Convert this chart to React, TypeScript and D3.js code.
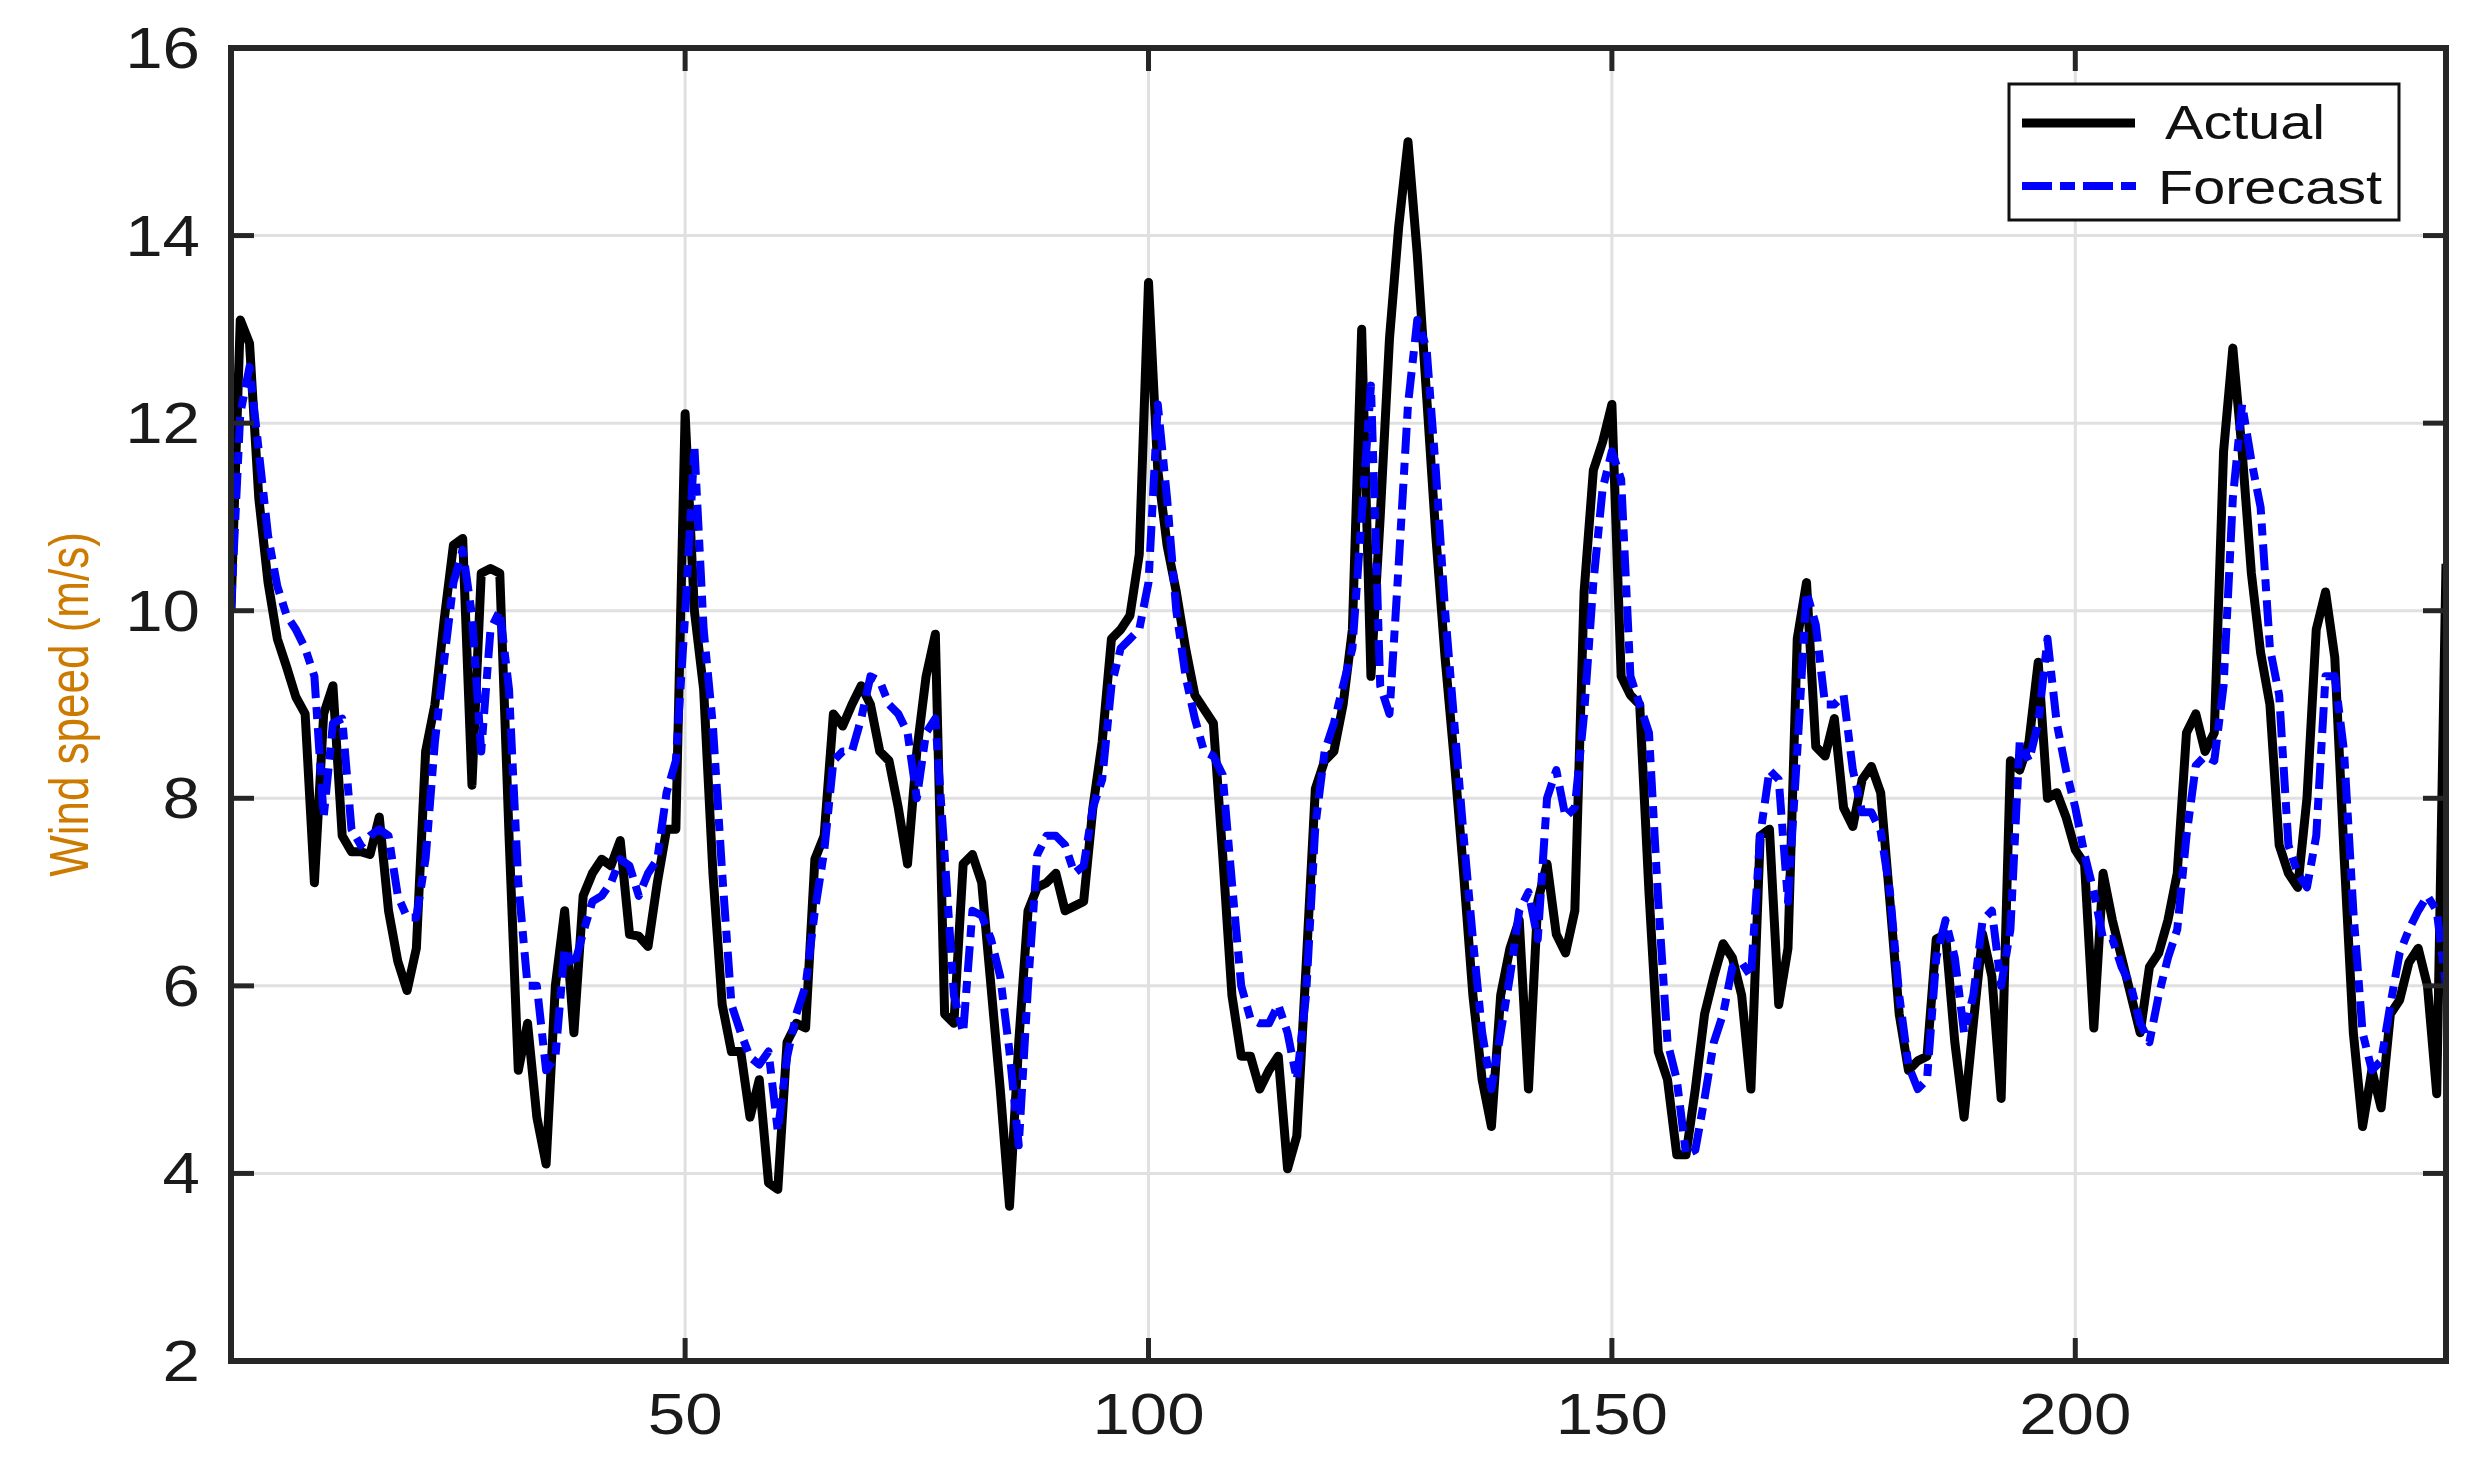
import React from "react";
import * as d3 from "d3";

const actual: number[] = [
  10.0, 13.1, 12.85, 11.2, 10.3, 9.7, 9.4, 9.08, 8.9, 7.1,
  8.9, 9.2, 7.6, 7.43, 7.43, 7.4, 7.8, 6.8, 6.26, 5.95,
  6.4, 8.5, 9.0, 9.9, 10.7, 10.77, 8.14, 10.4, 10.45, 10.4,
  7.6, 5.1, 5.6, 4.6, 4.1, 6.0, 6.8, 5.5, 6.96, 7.2,
  7.35, 7.28, 7.55, 6.55, 6.53, 6.42, 7.1, 7.67, 7.67, 12.1,
  10.0, 9.16, 7.2, 5.8, 5.3, 5.3, 4.6, 5.0, 3.9, 3.83,
  5.4, 5.6, 5.55, 7.35, 7.6, 8.9, 8.77, 9.0, 9.2, 9.0,
  8.5, 8.4, 7.9, 7.3, 8.5, 9.3, 9.75, 5.7, 5.6, 7.3,
  7.4, 7.1, 6.0, 4.9, 3.65, 5.4, 6.8, 7.05, 7.1, 7.2,
  6.8, 6.85, 6.9, 7.9, 8.6, 9.7, 9.8, 9.95, 10.6, 13.5,
  11.5, 10.7, 10.2, 9.6, 9.1, 8.95, 8.8, 7.4, 5.9, 5.25,
  5.25, 4.9, 5.1, 5.25, 4.05, 4.4, 6.2, 8.1, 8.4, 8.5,
  9.0, 9.8, 13.0, 9.3, 11.0, 12.9, 14.1, 15.0, 13.8, 12.3,
  10.8, 9.5, 8.4, 7.2, 5.9, 5.0, 4.5, 5.9, 6.4, 6.7,
  4.9, 6.9, 7.3, 6.55, 6.35, 6.8, 10.2, 11.5, 11.8, 12.2,
  9.3, 9.1, 9.0, 7.0, 5.3, 5.0, 4.2, 4.2, 4.9, 5.7,
  6.1, 6.45, 6.3, 5.9, 4.9, 7.6, 7.67, 5.8, 6.4, 9.7,
  10.3, 8.55, 8.45, 8.85, 7.9, 7.7, 8.2, 8.34, 8.06, 6.9,
  5.7, 5.1, 5.2, 5.25, 6.5, 6.55, 5.4, 4.6, 5.6, 6.55,
  6.1, 4.8, 8.4, 8.3, 8.6, 9.45, 8.0, 8.06, 7.8, 7.45,
  7.3, 5.55, 7.2, 6.7, 6.3, 5.9, 5.5, 6.2, 6.35, 6.7,
  7.2, 8.7, 8.9, 8.5, 8.7, 11.7, 12.8, 11.7, 10.4, 9.55,
  9.0, 7.5, 7.2, 7.05, 8.0, 9.8, 10.2, 9.5, 7.4, 5.5,
  4.5, 5.1, 4.7, 5.7, 5.85, 6.25, 6.4, 6.0, 4.85, 10.5,
];

const forecast: number[] = [
  10.0, 12.1, 12.6, 11.7, 10.8, 10.26, 9.95, 9.8, 9.6, 9.3,
  7.8, 8.8, 8.85, 7.67, 7.5, 7.6, 7.67, 7.6, 6.96, 6.73,
  6.73, 7.36, 8.6, 9.47, 10.3, 10.65, 9.95, 8.5, 9.8, 10.0,
  9.16, 7.1, 6.0, 6.0, 5.1, 5.24, 6.4, 6.2, 6.57, 6.9,
  6.96, 7.1, 7.35, 7.28, 6.96, 7.2, 7.35, 8.06, 8.4, 9.95,
  11.75, 9.8, 8.77, 7.2, 5.8, 5.5, 5.24, 5.16, 5.3, 4.45,
  5.24, 5.7, 6.0, 6.8, 7.43, 8.4, 8.5, 8.5, 8.85, 9.3,
  9.25, 9.0, 8.9, 8.7, 8.0, 8.7, 8.85, 7.4, 5.9, 5.5,
  6.8, 6.75, 6.5, 6.1, 5.3, 4.3, 6.0, 7.4, 7.6, 7.6,
  7.5, 7.2, 7.28, 7.9, 8.2, 9.2, 9.6, 9.7, 9.8, 10.3,
  12.2, 11.2, 10.0, 9.3, 8.85, 8.5, 8.45, 8.25, 7.1, 6.0,
  5.65, 5.6, 5.6, 5.8, 5.5, 5.0, 5.9, 7.7, 8.5, 8.8,
  9.2, 9.6, 11.0, 12.4, 9.2, 8.9, 10.5, 12.2, 13.1, 12.8,
  11.5, 10.0, 8.8, 7.6, 6.5, 5.5, 4.9, 5.5, 6.1, 6.8,
  7.0, 6.5, 8.0, 8.3, 7.8, 7.9, 8.9, 10.3, 11.3, 11.7,
  11.4, 9.3, 9.0, 8.7, 6.9, 5.4, 5.0, 4.2, 4.25, 4.8,
  5.4, 5.7, 6.2, 6.25, 6.1, 7.6, 8.3, 8.2, 6.9, 8.5,
  10.2, 9.85, 9.0, 9.0, 9.1, 8.3, 7.85, 7.85, 7.65, 7.0,
  5.9, 5.15, 4.9, 5.0, 6.3, 6.7, 6.3, 5.5, 5.9, 6.7,
  6.8, 6.0, 6.6, 8.6, 8.4, 8.8, 9.7, 8.8, 8.3, 7.9,
  7.4, 7.0, 6.5, 6.5, 6.2, 6.0, 5.6, 5.4, 5.9, 6.3,
  6.6, 7.6, 8.35, 8.45, 8.4, 9.2, 11.2, 12.2, 11.6, 11.1,
  9.6, 9.1, 7.5, 7.2, 7.05, 7.6, 9.3, 9.3, 8.5, 6.8,
  5.5, 5.1, 5.2, 5.8, 6.35, 6.6, 6.8, 6.96, 6.8, 6.0,
];

const xTicks: number[] = [50, 100, 150, 200];
const yTicks: number[] = [2, 4, 6, 8, 10, 12, 14, 16];
const seriesNames: string[] = ["Actual", "Forecast"];
const yLabel = "Wind speed (m/s)";

const W = 2490;
const H = 1479;
const L = 231;
const R = 2446;
const T = 48;
const B = 1361;
const FONT = "'Liberation Sans', Arial, Helvetica, sans-serif";
const SX = 1.18;

export default function App() {
  const x = d3.scaleLinear().domain([1, 240]).range([L, R]);
  const y = d3.scaleLinear().domain([2, 16]).range([B, T]);
  const line = d3
    .line<number>()
    .x((_, i) => x(i + 1))
    .y((d) => y(d));

  const tickLen = 23;
  const axisColor = "#262626";

  return (
    <svg
      width={W}
      height={H}
      style={{ position: "absolute", left: 0, top: 0, background: "#fff" }}
    >
      <rect x={0} y={0} width={W} height={H} fill="#fff" />
      <defs>
        <clipPath id="plotclip">
          <rect x={L} y={T} width={R - L} height={B - T} />
        </clipPath>
      </defs>
      {yTicks.map((t) => (
        <line
          key={"gy" + t}
          x1={L}
          x2={R}
          y1={y(t)}
          y2={y(t)}
          stroke="#e0e0e0"
          strokeWidth={3}
        />
      ))}
      {xTicks.map((t) => (
        <line
          key={"gx" + t}
          x1={x(t)}
          x2={x(t)}
          y1={T}
          y2={B}
          stroke="#e0e0e0"
          strokeWidth={3}
        />
      ))}
      <g clipPath="url(#plotclip)">
        <path
          d={line(actual) || ""}
          fill="none"
          stroke="#000"
          strokeWidth={9}
          strokeLinejoin="round"
        />
        <path
          d={line(forecast) || ""}
          fill="none"
          stroke="#0000ff"
          strokeWidth={8}
          strokeDasharray="26 9 12 9"
          strokeLinejoin="round"
        />
      </g>
      {yTicks.map((t) => (
        <g key={"ty" + t}>
          <line x1={L} x2={L + tickLen} y1={y(t)} y2={y(t)} stroke={axisColor} strokeWidth={5} />
          <line x1={R - tickLen} x2={R} y1={y(t)} y2={y(t)} stroke={axisColor} strokeWidth={5} />
          <text
            transform={`translate(${L - 31},${y(t) + 20}) scale(${SX},1)`}
            textAnchor="end"
            fontFamily={FONT}
            fontSize={57}
            fill="#1a1a1a"
          >
            {t}
          </text>
        </g>
      ))}
      {xTicks.map((t) => (
        <g key={"tx" + t}>
          <line x1={x(t)} x2={x(t)} y1={B} y2={B - tickLen} stroke={axisColor} strokeWidth={5} />
          <line x1={x(t)} x2={x(t)} y1={T} y2={T + tickLen} stroke={axisColor} strokeWidth={5} />
          <text
            transform={`translate(${x(t)},${1434}) scale(${SX},1)`}
            textAnchor="middle"
            fontFamily={FONT}
            fontSize={57}
            fill="#1a1a1a"
          >
            {t}
          </text>
        </g>
      ))}
      <rect
        x={L}
        y={T}
        width={R - L}
        height={B - T}
        fill="none"
        stroke={axisColor}
        strokeWidth={6}
      />
      <text
        transform={`translate(${88},${(T + B) / 2}) scale(1.25,1) rotate(-90)`}
        textAnchor="middle"
        fontFamily={FONT}
        fontSize={44}
        fill="#cc7a00"
      >
        {yLabel}
      </text>
      <g>
        <rect x={2009} y={84} width={390} height={136} fill="#fff" stroke="#111" strokeWidth={3} />
        <line x1={2022} x2={2135} y1={123} y2={123} stroke="#000" strokeWidth={9} />
        <line
          x1={2022}
          x2={2139}
          y1={186}
          y2={186}
          stroke="#0000ff"
          strokeWidth={8}
          strokeDasharray="30 8 15 8"
        />
        <text
          transform={`translate(2165,139) scale(1.2,1)`}
          fontFamily={FONT}
          fontSize={48}
          fill="#111"
        >
          {seriesNames[0]}
        </text>
        <text
          transform={`translate(2158,204) scale(1.2,1)`}
          fontFamily={FONT}
          fontSize={48}
          fill="#111"
        >
          {seriesNames[1]}
        </text>
      </g>
    </svg>
  );
}
